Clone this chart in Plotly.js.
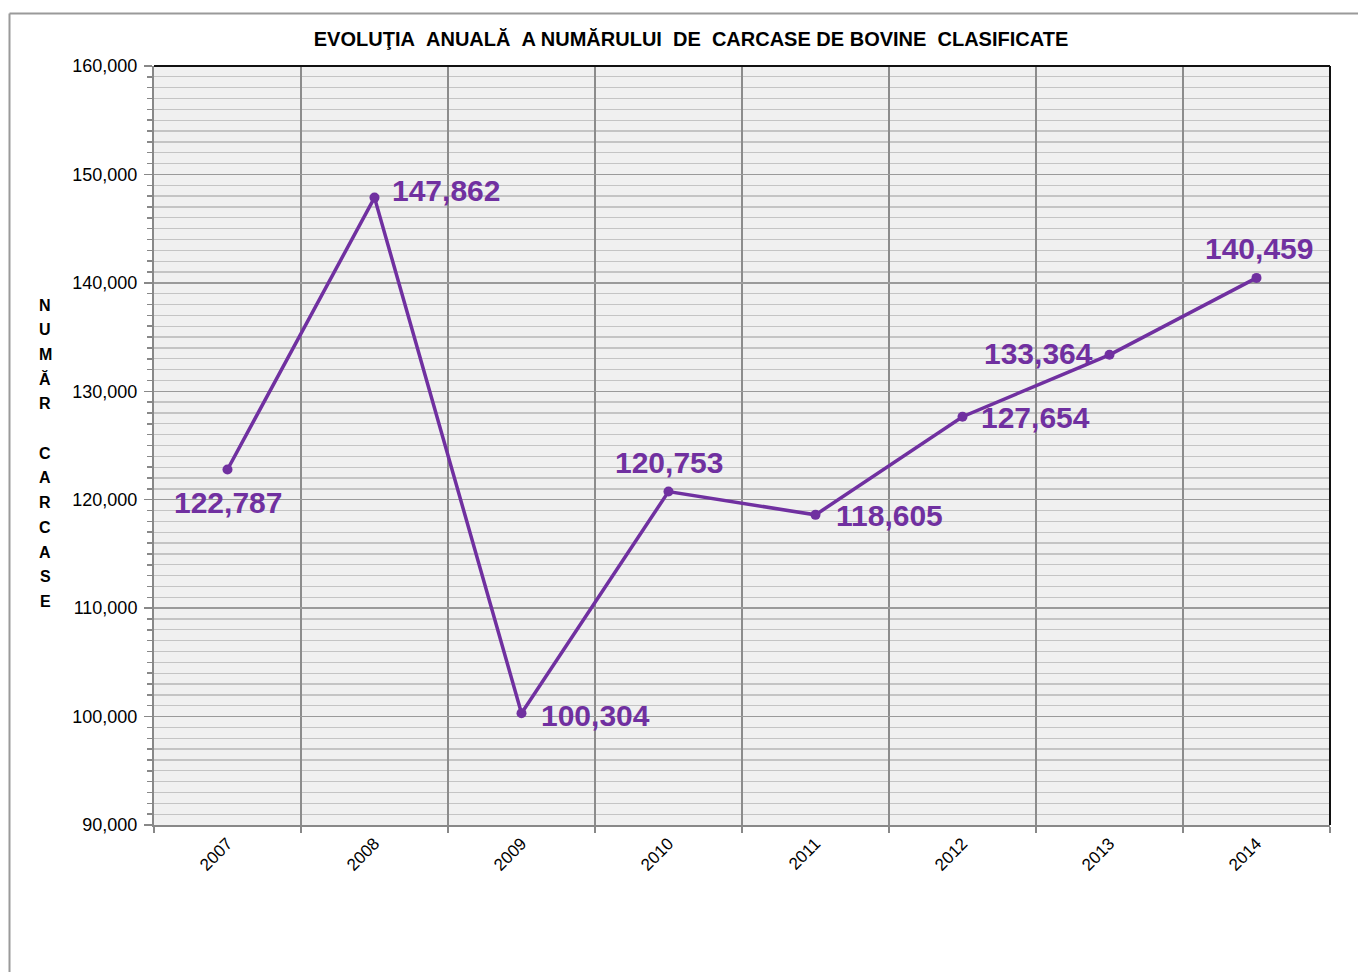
<!DOCTYPE html>
<html>
<head>
<meta charset="utf-8">
<script src="https://cdn.plot.ly/plotly-3.0.1.min.js"></script>
<style>
html,body{margin:0;padding:0;background:#fff;}
#chart{width:1358px;height:972px;}
</style>
</head>
<body>
<div id="chart"></div>
<script>
// Data
var years = ["2007","2008","2009","2010","2011","2012","2013","2014"];
var carcase = [122787, 147862, 100304, 120753, 118605, 127654, 133364, 140459];
var titleText = "EVOLUŢIA&nbsp;&nbsp;ANUALĂ&nbsp;&nbsp;A NUMĂRULUI&nbsp;&nbsp;DE&nbsp;&nbsp;CARCASE DE BOVINE&nbsp;&nbsp;CLASIFICATE";
var yTitleLetters = ["N","U","M","Ă","R","","C","A","R","C","A","S","E"];

// label placement styles (anchor, x shift px, y shift px)
var labelAnchor = ["center","left","left","center","left","left","right","center"];
var labelDx = [0, 15, 17, 0, 18, 16, -15, 2];
var labelDy = [-33, 7, -2, 29, -1, -1, 1, 29];

var purple = "#7030A0";
var fmt = function(v){ return v.toLocaleString("en-US"); };
var FONT = "Liberation Sans, Arial, sans-serif";

var trace = {
  x: years,
  y: carcase,
  type: "scatter",
  mode: "lines+markers",
  line: {color: purple, width: 3.5},
  marker: {color: purple, size: 10},
  cliponaxis: false,
  hoverinfo: "x+y"
};

// plot area: x 154..1330, y 66..825
var L = 154, R = 1330, T = 66, B = 825, W = 1358, H = 972;
var px = function(x){ return (x - L) / (R - L); };
var py = function(y){ return (B - y) / (B - T); };

var annotations = [];
years.forEach(function(yr, i){
  annotations.push({
    xref: "x", yref: "y",
    x: i, y: carcase[i],   // category index on the category axis
    text: "<b>" + fmt(carcase[i]) + "</b>",
    showarrow: false,
    xanchor: labelAnchor[i], yanchor: "middle",
    xshift: labelDx[i], yshift: labelDy[i],
    font: {family: FONT, size: 30, color: purple}
  });
});
yTitleLetters.forEach(function(ch, i){
  if (!ch) return;
  annotations.push({
    xref: "paper", yref: "paper",
    x: px(45), y: py(305 + i * 24.7),
    xanchor: "center", yanchor: "middle",
    text: "<b>" + ch + "</b>",
    showarrow: false,
    font: {family: FONT, size: 16, color: "#000"}
  });
});

var layout = {
  width: W, height: H,
  margin: {l: L, r: W - R, t: T, b: H - B, pad: 0},
  paper_bgcolor: "#ffffff",
  plot_bgcolor: "#f0f0f0",
  showlegend: false,
  font: {family: FONT, color: "#000"},
  title: {
    text: "<b>" + titleText + "</b>",
    font: {family: FONT, size: 20, color: "#000"},
    x: px(691), xanchor: "center", xref: "paper",
    y: 1 - 39 / H, yanchor: "middle"
  },
  xaxis: {
    type: "category",
    range: [-0.5, 7.5],
    tickson: "boundaries",
    ticks: "outside", ticklen: 6, tickcolor: "#888", tickwidth: 1.5,
    showgrid: true, gridcolor: "#8c8c8c", gridwidth: 1.3,
    showline: true, linecolor: "#888", linewidth: 2,
    tickangle: -45,
    tickfont: {size: 17, color: "#000"},
    zeroline: false, fixedrange: true
  },
  yaxis: {
    range: [90000, 160000],
    dtick: 10000,
    tickformat: ",d",
    ticks: "outside", ticklen: 8, tickcolor: "#888", tickwidth: 1.5,
    showgrid: true, gridcolor: "#9a9a9a", gridwidth: 1.3,
    showline: true, linecolor: "#888", linewidth: 2,
    tickfont: {size: 18, color: "#000"},
    ticklabelstandoff: 3,
    minor: {dtick: 1000, ticks: "outside", ticklen: 5, tickcolor: "#888", showgrid: true, gridcolor: "#c4c4c4", gridwidth: 1.3},
    zeroline: false, fixedrange: true
  },
  shapes: [
    {type: "line", xref: "paper", yref: "paper", x0: 0, x1: 1, y0: 1, y1: 1, line: {color: "#111", width: 2}},
    {type: "line", xref: "paper", yref: "paper", x0: 1, x1: 1, y0: 0, y1: 1, line: {color: "#111", width: 2}},
    {type: "line", xref: "paper", yref: "paper", x0: px(9.5), x1: px(1370), y0: py(13.5), y1: py(13.5), line: {color: "#9a9a9a", width: 2}},
    {type: "line", xref: "paper", yref: "paper", x0: px(9.5), x1: px(9.5), y0: py(13.5), y1: py(990), line: {color: "#9a9a9a", width: 2}}
  ],
  annotations: annotations
};

Plotly.newPlot("chart", [trace], layout, {displayModeBar: false, staticPlot: true});
</script>
</body>
</html>
